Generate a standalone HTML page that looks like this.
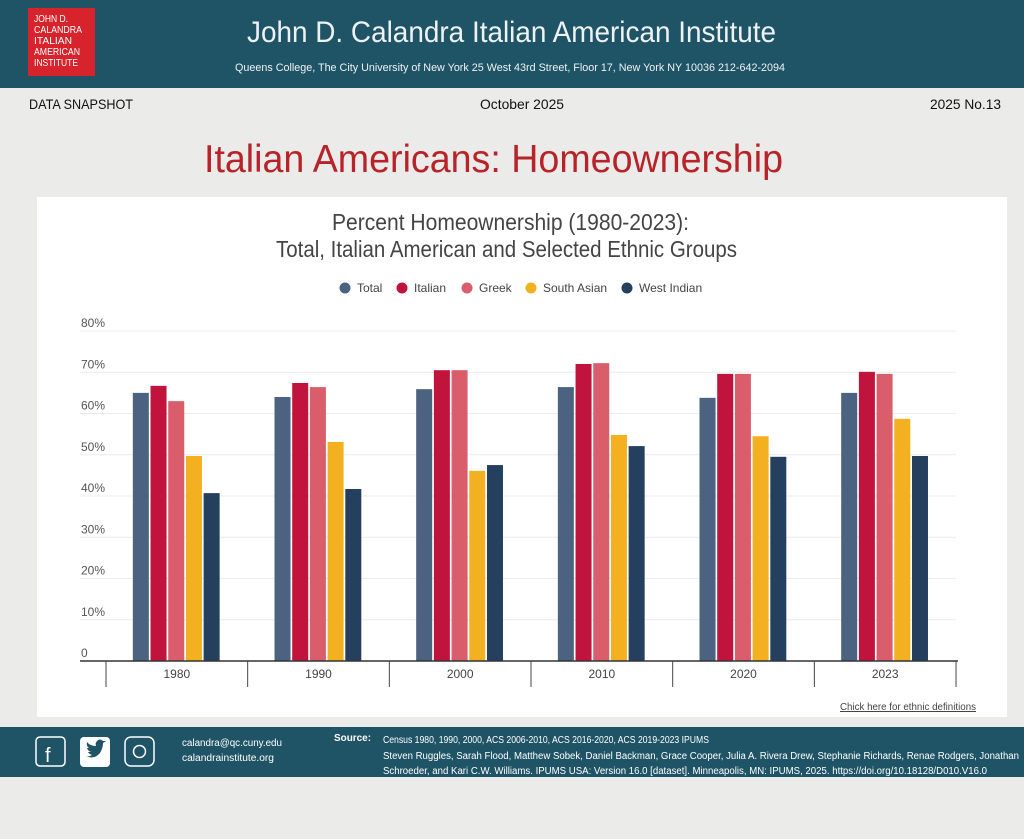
<!DOCTYPE html>
<html><head><meta charset="utf-8"><style>
html,body{margin:0;padding:0;background:#ebebea;}
svg{display:block;}
text{font-family:"Liberation Sans Narrow","Liberation Sans",sans-serif;}
</style></head><body>
<svg id="s" width="1024" height="839" viewBox="0 0 1024 839" xmlns="http://www.w3.org/2000/svg">
<rect width="1024" height="839" fill="#ebebea"/>
<rect x="0" y="0" width="1024" height="88" fill="#1f5466"/>
<rect x="28" y="8" width="67" height="68" fill="#d7232b"/>
<g fill="#fff" font-size="10">
<text x="34" y="22" textLength="34" lengthAdjust="spacingAndGlyphs">JOHN D.</text>
<text x="34" y="33" textLength="48" lengthAdjust="spacingAndGlyphs">CALANDRA</text>
<text x="34" y="44" textLength="38" lengthAdjust="spacingAndGlyphs">ITALIAN</text>
<text x="34" y="55" textLength="46" lengthAdjust="spacingAndGlyphs">AMERICAN</text>
<text x="34" y="66" textLength="44" lengthAdjust="spacingAndGlyphs">INSTITUTE</text>
</g>
<text x="247" y="42" font-size="30" fill="#eef2f4" textLength="529" lengthAdjust="spacingAndGlyphs">John D. Calandra Italian American Institute</text>
<text x="235" y="71" font-size="11" fill="#eef2f4" textLength="550" lengthAdjust="spacingAndGlyphs">Queens College, The City University of New York  25 West 43rd Street, Floor 17, New York NY 10036      212-642-2094</text>
<g font-size="14" fill="#111">
<text x="29" y="109" textLength="104" lengthAdjust="spacingAndGlyphs">DATA SNAPSHOT</text>
<text x="480" y="109" textLength="84" lengthAdjust="spacingAndGlyphs">October 2025</text>
<text x="930" y="109" textLength="71" lengthAdjust="spacingAndGlyphs">2025  No.13</text>
</g>
<text x="204" y="172" font-size="39" fill="#b8232a" textLength="579" lengthAdjust="spacingAndGlyphs">Italian Americans: Homeownership</text>
<rect x="37" y="197" width="970" height="520" fill="#fff"/>
<text x="332" y="230" font-size="23" fill="#444" textLength="357" lengthAdjust="spacingAndGlyphs">Percent Homeownership (1980-2023):</text>
<text x="276" y="257" font-size="23" fill="#444" textLength="461" lengthAdjust="spacingAndGlyphs">Total, Italian American and Selected Ethnic Groups</text>
<g font-size="12" fill="#444" id="leg"></g>
<g id="grid"></g>
<g id="bars"></g>
<text x="840" y="710" font-size="10" fill="#444" text-decoration="underline" textLength="136" lengthAdjust="spacingAndGlyphs">Chick here for ethnic definitions</text>
<rect x="0" y="727" width="1024" height="50" fill="#1f5466"/>
<g fill="none" stroke="#fff" stroke-width="1.5">
<rect x="36" y="737" width="29" height="29" rx="4"/>
<rect x="125" y="737" width="29" height="29" rx="6"/>
<circle cx="139.5" cy="751.5" r="6"/>
</g>
<text x="45" y="762" font-size="20" fill="#fff">f</text>
<rect x="80" y="737" width="30" height="30" rx="4" fill="#fff"/>
<path d="M86 756 q8 4 14 -3 q3 -5 3 -10 l3 -2 l-3 0 q-3 -3 -6 0 q-2 2 -1 5 q-6 0 -9 -4 q-1 4 2 6 l-2 0 q1 3 4 4 l-3 0 q1 2 4 3 q-3 2 -6 1z" fill="#1f5466"/>
<g font-size="10" fill="#fff">
<text x="182" y="746" textLength="100" lengthAdjust="spacingAndGlyphs">calandra@qc.cuny.edu</text>
<text x="182" y="761" textLength="92" lengthAdjust="spacingAndGlyphs">calandrainstitute.org</text>
<text x="334" y="741" font-weight="bold" textLength="37" lengthAdjust="spacingAndGlyphs">Source:</text>
<text x="383" y="743" textLength="326" lengthAdjust="spacingAndGlyphs">Census 1980, 1990, 2000, ACS 2006-2010, ACS 2016-2020, ACS 2019-2023 IPUMS</text>
<text x="383" y="759" textLength="636" lengthAdjust="spacingAndGlyphs">Steven Ruggles, Sarah Flood, Matthew  Sobek, Daniel Backman, Grace Cooper, Julia A. Rivera Drew, Stephanie  Richards, Renae Rodgers, Jonathan</text>
<text x="383" y="774" textLength="604" lengthAdjust="spacingAndGlyphs">Schroeder, and Kari C.W. Williams.  IPUMS USA: Version 16.0 [dataset]. Minneapolis, MN: IPUMS, 2025.  https://doi.org/10.18128/D010.V16.0</text>
</g>
</svg>
<script>
var NS="http://www.w3.org/2000/svg";
function el(p,t,a,txt){var e=document.createElementNS(NS,t);for(var k in a)e.setAttribute(k,a[k]);if(txt)e.textContent=txt;document.getElementById(p).appendChild(e);return e;}
var cols=["#4b6381","#c1143d","#da5d6c","#f3b121","#253f5f"];
var names=["Total","Italian","Greek","South Asian","West Indian"];
var lx=[345,402,467,531,627];
for(var i=0;i<5;i++){el("leg","circle",{cx:lx[i],cy:288,r:5.5,fill:cols[i]});el("leg","text",{x:lx[i]+12,y:292},names[i]);}
var y0=661,s=4.125;
for(var g=0;g<=8;g++){var y=y0-g*10*s;
 if(g>0)el("grid","line",{x1:80,x2:956,y1:y,y2:y,stroke:"#ececec","stroke-width":1});
 el("grid","text",{x:81,y:y-4,"font-size":12,fill:"#555"},g==0?"0":(g*10)+"%");}
var data=[[65,66.7,63,49.7,40.7],[64,67.4,66.4,53.1,41.7],[65.9,70.5,70.5,46.1,47.5],[66.4,72,72.2,54.8,52.1],[63.8,69.6,69.6,54.5,49.5],[65,70.1,69.6,58.7,49.7]];
var yrs=["1980","1990","2000","2010","2020","2023"];
var cw=141.67;
for(var g=0;g<6;g++){var cx=106+cw*g+cw/2;var st=cx-44;
 for(var b=0;b<5;b++){var h=data[g][b]*s;el("bars","rect",{x:st+b*17.7,y:y0-h,width:16,height:h,fill:cols[b]});}
 el("bars","text",{x:cx,y:678,"font-size":12,fill:"#444","text-anchor":"middle"},yrs[g]);}
el("bars","line",{x1:80,x2:958,y1:661,y2:661,stroke:"#333","stroke-width":1.5});
for(var g=0;g<=6;g++){var x=106+cw*g;el("bars","line",{x1:x,x2:x,y1:661,y2:687,stroke:"#444","stroke-width":1});}
</script>
</body></html>
